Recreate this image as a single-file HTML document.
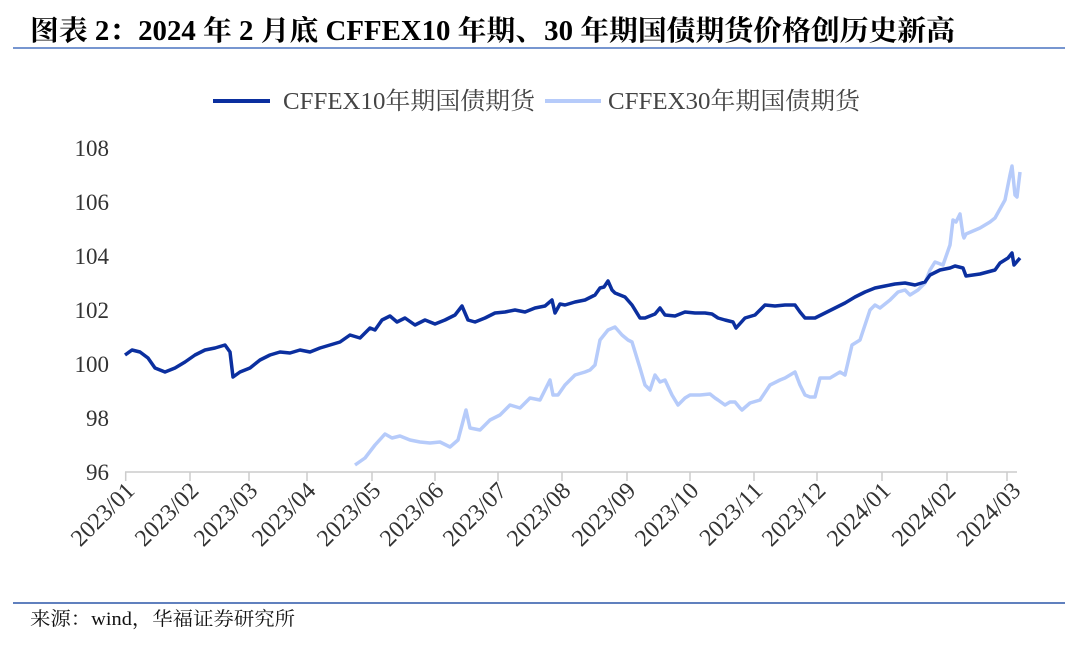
<!DOCTYPE html>
<html><head><meta charset="utf-8"><style>
body{margin:0;background:#fff;}
svg text{font-family:"Liberation Serif","Noto Serif CJK SC",serif;}
</style></head><body>
<svg width="1080" height="640" viewBox="0 0 1080 640" xmlns="http://www.w3.org/2000/svg">
<text x="30" y="40" font-size="28" font-weight="bold" fill="#000" textLength="925" lengthAdjust="spacingAndGlyphs">图表 2：2024 年 2 月底 CFFEX10 年期、30 年期国债期货价格创历史新高</text>
<line x1="13" y1="48" x2="1065" y2="48" stroke="#4a74c0" stroke-width="1.5"/>
<line x1="213" y1="101" x2="270" y2="101" stroke="#0b2f9f" stroke-width="4"/>
<text x="283" y="109" font-size="24" fill="#444" textLength="252" lengthAdjust="spacingAndGlyphs">CFFEX10年期国债期货</text>
<line x1="545" y1="101" x2="601" y2="101" stroke="#b6cbfa" stroke-width="4"/>
<text x="608" y="109" font-size="24" fill="#444" textLength="252" lengthAdjust="spacingAndGlyphs">CFFEX30年期国债期货</text>
<g font-size="23" fill="#333" text-anchor="end">
<text x="109" y="156">108</text><text x="109" y="210">106</text><text x="109" y="264">104</text>
<text x="109" y="318">102</text><text x="109" y="372">100</text><text x="109" y="426">98</text><text x="109" y="480">96</text>
</g>
<line x1="125" y1="472" x2="1017" y2="472" stroke="#ccc" stroke-width="1.5"/>
<g stroke="#ccc" stroke-width="1.5">
<line x1="125.7" y1="472" x2="125.7" y2="481"/><line x1="190" y1="472" x2="190" y2="481"/><line x1="249" y1="472" x2="249" y2="481"/><line x1="307" y1="472" x2="307" y2="481"/><line x1="372" y1="472" x2="372" y2="481"/><line x1="435" y1="472" x2="435" y2="481"/><line x1="498" y1="472" x2="498" y2="481"/><line x1="562" y1="472" x2="562" y2="481"/><line x1="627" y1="472" x2="627" y2="481"/><line x1="690" y1="472" x2="690" y2="481"/><line x1="754" y1="472" x2="754" y2="481"/><line x1="817" y1="472" x2="817" y2="481"/><line x1="882" y1="472" x2="882" y2="481"/><line x1="947" y1="472" x2="947" y2="481"/><line x1="1007" y1="472" x2="1007" y2="481"/>
</g>
<g font-size="24" fill="#333" text-anchor="end">
<text transform="translate(136,492) rotate(-45)">2023/01</text>
<text transform="translate(200,492) rotate(-45)">2023/02</text>
<text transform="translate(259,492) rotate(-45)">2023/03</text>
<text transform="translate(317,492) rotate(-45)">2023/04</text>
<text transform="translate(382,492) rotate(-45)">2023/05</text>
<text transform="translate(445,492) rotate(-45)">2023/06</text>
<text transform="translate(508,492) rotate(-45)">2023/07</text>
<text transform="translate(572,492) rotate(-45)">2023/08</text>
<text transform="translate(637,492) rotate(-45)">2023/09</text>
<text transform="translate(700,492) rotate(-45)">2023/10</text>
<text transform="translate(764,492) rotate(-45)">2023/11</text>
<text transform="translate(827,492) rotate(-45)">2023/12</text>
<text transform="translate(892,492) rotate(-45)">2024/01</text>
<text transform="translate(957,492) rotate(-45)">2024/02</text>
<text transform="translate(1022,492) rotate(-45)">2024/03</text>
</g>
<polyline fill="none" stroke="#b6cbfa" stroke-width="3.5" stroke-linejoin="round" points="355,465 365,458 375,445 385,434 392,438 400,436 410,440 420,442 430,443 440,442 450,447 458,440 466,410 470,428 480,430 490,420 500,415 510,405 520,408 530,398 540,400 550,380 553,395 558,395 565,385 575,375 585,372 590,370 595,365 600,340 608,330 615,327 622,335 628,340 632,342 640,368 645,385 650,390 655,375 660,382 665,380 672,395 678,405 685,398 690,395 700,395 710,394 715,398 718,400 725,405 730,402 735,402 740,408 742,410 750,403 760,400 770,385 780,380 785,378 790,375 795,372 800,385 805,395 810,397 815,397 820,378 830,378 840,372 845,375 852,345 860,340 865,325 870,310 875,305 880,308 890,300 898,292 905,290 910,295 918,290 925,283 930,270 935,262 943,265 950,245 953,220 956,222 960,214 963,235 964,238 966,234 980,228 990,222 995,218 1005,200 1010,175 1012,166 1015,195 1017,197 1020,172"/>
<polyline fill="none" stroke="#0b2f9f" stroke-width="3.5" stroke-linejoin="round" points="125,355 132,350 140,352 148,358 155,368 165,372 175,368 185,362 195,355 205,350 215,348 225,345 230,352 233,377 240,372 250,368 260,360 270,355 280,352 290,353 300,350 310,352 320,348 330,345 340,342 350,335 360,338 370,328 375,330 382,320 390,316 397,322 405,318 415,325 425,320 435,324 445,320 455,315 462,306 468,320 475,322 485,318 495,313 505,312 515,310 525,312 535,308 545,306 552,300 555,313 560,304 565,305 575,302 585,300 595,295 600,288 604,287 608,281 612,290 615,293 625,297 632,305 640,318 645,318 655,314 660,308 665,315 675,316 680,314 685,312 695,313 705,313 712,314 718,318 725,320 733,322 736,328 745,318 755,315 765,305 775,306 785,305 795,305 800,312 805,318 815,318 825,313 835,308 845,303 855,297 865,292 875,288 885,286 895,284 905,283 915,285 925,282 930,275 940,270 950,268 955,266 963,268 966,276 980,274 995,270 1000,263 1008,258 1012,253 1014,265 1020,258"/>
<line x1="13" y1="603" x2="1065" y2="603" stroke="#2c56a8" stroke-width="1.5"/>
<text x="30" y="625" font-size="19" fill="#111" textLength="265" lengthAdjust="spacingAndGlyphs">来源：wind，华福证券研究所</text>
</svg>
</body></html>
